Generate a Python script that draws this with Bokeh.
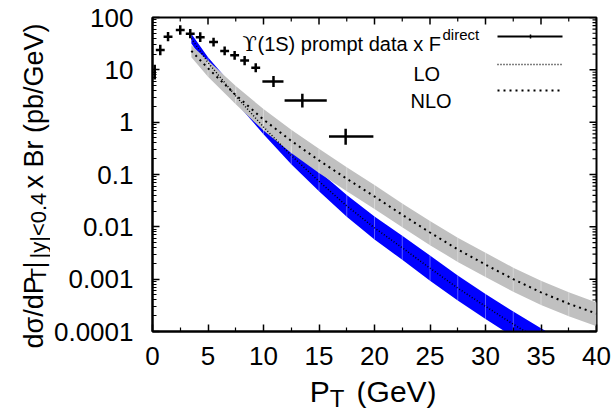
import math
from bokeh.plotting import figure
from bokeh.layouts import row, column
from bokeh.models import (Range1d, Label, FixedTicker, Arrow)
from bokeh.embed import file_html
from bokeh.resources import INLINE

# ---------------- data ----------------
# Upsilon(1S) prompt data x F^direct
pt_data = [0.2, 0.7, 1.4, 2.5, 3.4, 4.3, 5.5, 6.5, 7.4, 8.3, 9.3, 10.9, 13.5, 17.4]
pt_lo = [0.1, 0.3, 1.0, 2.1, 3.0, 3.9, 5.1, 6.1, 7.0, 7.9, 8.9, 9.9, 11.9, 15.9]
pt_hi = [0.3, 1.1, 1.8, 2.9, 3.8, 4.7, 5.9, 6.9, 7.8, 8.7, 9.7, 11.8, 15.7, 19.9]
sig = [9, 24, 43, 58, 49, 42, 34, 23, 19, 15, 11, 6.0, 2.6, 0.53]
sig_lo = [6.5, 19, 35, 47, 40, 34, 28, 19, 15.5, 12.3, 9, 4.7, 1.9, 0.37]
sig_hi = [12.5, 30, 53, 71, 60, 52, 41, 28, 23, 18.3, 13.4, 7.6, 3.5, 0.75]

# theory curves
pt_th = [3.5, 5, 7.5, 10, 12.5, 15, 17.5, 20, 22.5, 25, 27.5, 30, 32.5, 35, 37.5, 40]
lo_c = [39.8, 13.8, 3.16, 0.81, 0.232, 0.0741, 0.0251, 0.00955, 0.00398, 0.00162,
        6.76e-4, 3.02e-4, 1.38e-4, 6.6e-5, 3.3e-5, 1.7e-5]
lo_up = [49, 17.4, 4.2, 1.12, 0.343, 0.115, 0.0407, 0.0158, 0.00676, 0.00282,
         1.17e-3, 5.2e-4, 2.4e-4, 1.15e-4, 5.75e-5, 2.95e-5]
lo_dn = [32, 11, 2.4, 0.59, 0.157, 0.0479, 0.0155, 0.00575, 0.00234, 9.3e-4,
         3.9e-4, 1.74e-4, 7.9e-5, 3.8e-5, 1.9e-5, 9.8e-6]
nlo_c = [23, 10.7, 3.3, 1.12, 0.44, 0.186, 0.083, 0.038, 0.017, 0.0078,
         0.0037, 0.0019, 0.001, 5.6e-4, 3.4e-4, 2.2e-4]
nlo_up = [29.5, 15.1, 4.9, 1.78, 0.72, 0.31, 0.138, 0.063, 0.028, 0.0129,
          0.0062, 0.0032, 0.00166, 9.3e-4, 5.6e-4, 3.6e-4]
nlo_dn = [17.4, 7.4, 2.19, 0.69, 0.257, 0.107, 0.048, 0.022, 0.0098, 0.00447,
          0.00214, 0.0011, 5.75e-4, 3.2e-4, 1.95e-4, 1.26e-4]

x_ticks = [0, 5, 10, 15, 20, 25, 30, 35, 40]
x_minor = [2.5, 7.5, 12.5, 17.5, 22.5, 27.5, 32.5, 37.5]
y_ticks = [1e-4, 1e-3, 1e-2, 1e-1, 1, 10, 100]
y_tick_labels = ["0.0001", "0.001", "0.01", "0.1", "1", "10", "100"]

FONT = "Liberation Sans"
X_MIN, X_MAX, Y_MIN, Y_MAX = 0, 40, 1e-4, 100

# page layout (pixels): left strip for the y title, bottom strip for the x title
W, H = 614, 415
LEFT_W = 50          # a plot frame is at least 50 px in each direction
MAIN_H = 381
STRIP_H = 50
FL, FR, FT, FB = 150, 596, 17, 331   # frame edges in page pixels

# ---------------- main figure ----------------
p = figure(width=W - LEFT_W, height=MAIN_H, title=None,
           x_range=Range1d(X_MIN, X_MAX), y_range=Range1d(Y_MIN, Y_MAX),
           y_axis_type="log", output_backend="svg", toolbar_location=None,
           min_border_left=FL - LEFT_W, min_border_right=W - FR,
           min_border_top=FT, min_border_bottom=MAIN_H - FB)
p.xgrid.visible = False
p.ygrid.visible = False
p.outline_line_color = "black"
p.outline_line_width = 2
p.background_fill_color = "white"
p.border_fill_color = "white"

y_minor = [m * d for d in [1e-4, 1e-3, 1e-2, 1e-1, 1, 10] for m in range(2, 10)]
xt = FixedTicker(ticks=x_ticks, minor_ticks=x_minor)
yt = FixedTicker(ticks=y_ticks, minor_ticks=y_minor)

for ax, standoff in ((p.xaxis[0], 15), (p.yaxis[0], 19)):
    ax.axis_line_color = "black"
    ax.axis_line_width = 2
    ax.major_tick_in = 7
    ax.major_tick_out = 0
    ax.minor_tick_in = 4
    ax.minor_tick_out = 0
    ax.major_tick_line_color = "black"
    ax.minor_tick_line_color = "black"
    ax.major_tick_line_width = 1.5
    ax.minor_tick_line_width = 1.2
    ax.major_label_text_font = FONT
    ax.major_label_text_font_size = "26px"
    ax.major_label_text_color = "black"
    ax.major_label_standoff = standoff

p.xaxis.ticker = xt
p.yaxis.ticker = yt
p.yaxis.major_label_overrides = {t: s for t, s in zip(y_ticks, y_tick_labels)}

# mirrored ticks on top and right edges (half of each dash is clipped by the frame)
p.scatter(x=x_ticks, y=[Y_MAX] * len(x_ticks), marker="dash", angle=math.pi / 2, size=14,
          line_color="black", line_width=1.5)
p.scatter(x=x_minor, y=[Y_MAX] * len(x_minor), marker="dash", angle=math.pi / 2, size=8,
          line_color="black", line_width=1.2)
p.scatter(x=[X_MAX] * len(y_ticks), y=y_ticks, marker="dash", size=14,
          line_color="black", line_width=1.5)
p.scatter(x=[X_MAX] * len(y_minor), y=y_minor, marker="dash", size=8,
          line_color="black", line_width=1.2)

# ---------------- bands ----------------
p.varea(x=pt_th, y1=lo_dn, y2=lo_up, fill_color="#0000ff")
p.varea(x=pt_th, y1=nlo_dn, y2=nlo_up, fill_color="#c0c0c0")
p.segment(x0=pt_th[1:-1], y0=lo_dn[1:-1], x1=pt_th[1:-1], y1=lo_up[1:-1],
          line_color="white", line_alpha=0.35, line_width=1)
p.segment(x0=pt_th[1:-1], y0=nlo_dn[1:-1], x1=pt_th[1:-1], y1=nlo_up[1:-1],
          line_color="white", line_alpha=0.35, line_width=1)
p.line(pt_th, lo_c, line_color="black", line_width=1.5, line_dash="1 2")
p.line(pt_th, nlo_c, line_color="black", line_width=2, line_dash="2 4")

# ---------------- data crosses ----------------
p.segment(x0=pt_lo, y0=sig, x1=pt_hi, y1=sig, line_color="black", line_width=2.5)
p.segment(x0=pt_data, y0=sig_lo, x1=pt_data, y1=sig_hi, line_color="black", line_width=2.5)


# ---------------- legend (page coords -> frame screen coords) ----------------
def sx(X):
    return X - FL


def sy(Y):
    return FB - Y


def lab(text, X, Y, size, angle=0.0, font=FONT):
    p.add_layout(Label(x=sx(X), y=sy(Y), x_units="screen", y_units="screen", text=text,
                       text_font=font, text_font_size=f"{size}px", text_color="black",
                       text_align="left", text_baseline="alphabetic", angle=angle))


lab("ϒ", 240, 43, 21, font="DejaVu Serif")
lab("(1S) prompt data x F", 255, 43, 20)
lab("direct", 440, 34, 15)
lab("LO", 411, 73, 20)
lab("NLO", 408, 100, 20)


def seg(X0, Y0, X1, Y1, width, dash="solid"):
    p.add_layout(Arrow(end=None, x_start=sx(X0), y_start=sy(Y0), x_end=sx(X1), y_end=sy(Y1),
                       start_units="screen", end_units="screen", line_color="black",
                       line_width=width, line_dash=dash))


seg(495, 36, 560, 36, 2)
seg(528, 34, 528, 38, 1.5)
seg(495, 64, 560, 64, 1.5, "1 2")
seg(495, 90, 560, 90, 2, "2 4")


# ---------------- title strips (coordinates = page pixels) ----------------
def strip(x0, x1, y0, y1, fx0, fx1):
    # the strip's frame spans page columns fx0..fx1 (borders make up the rest)
    f = figure(width=x1 - x0, height=y1 - y0, title=None,
               x_range=Range1d(fx0, fx1), y_range=Range1d(y1, y0),
               output_backend="svg", toolbar_location=None,
               x_axis_location=None, y_axis_location=None,
               min_border_left=fx0 - x0, min_border_right=x1 - fx1,
               min_border_top=0, min_border_bottom=0)
    f.xgrid.visible = False
    f.ygrid.visible = False
    f.outline_line_color = None
    f.background_fill_color = "white"
    f.border_fill_color = "white"
    return f


def tlab(f, text, X, Y, size, angle=0.0):
    f.add_layout(Label(x=X, y=Y, text=text, text_font=FONT, text_font_size=f"{size}px",
                       text_color="black", text_align="left", text_baseline="alphabetic",
                       angle=angle))


left = strip(0, LEFT_W, 0, MAIN_H + STRIP_H, 0, LEFT_W)
R = math.pi / 2
tlab(left, "dσ/dP", 33, 348, 27, R)
tlab(left, "T", 38, 281, 22, R)
tlab(left, "|", 33, 268, 27, R)
tlab(left, "|y|<0.4", 38, 258, 22, R)
tlab(left, "x Br (pb/GeV)", 33, 188, 27, R)

# the title strip renders about 13 px lower than its nominal place: compensate
bottom = strip(LEFT_W, W, MAIN_H, MAIN_H + STRIP_H, FL, FR)
tlab(bottom, "P", 308, 391, 30)
tlab(bottom, "T", 328, 398, 24)
tlab(bottom, "(GeV)", 355, 391, 30)

layout = row(left, column(p, bottom, spacing=0), spacing=0)
open("out.html", "w").write(file_html(layout, INLINE))
